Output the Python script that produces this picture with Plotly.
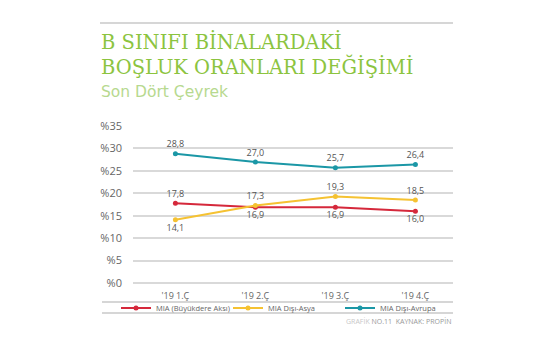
import plotly.graph_objects as go

categories = ["'19 1.Ç", "'19 2.Ç", "'19 3.Ç", "'19 4.Ç"]
mia_buyukdere = [17.8, 16.9, 16.9, 16.0]
mia_disi_asya = [14.1, 17.3, 19.3, 18.5]
mia_disi_avrupa = [28.8, 27.0, 25.7, 26.4]
series_names = ["MIA (Büyükdere Aksı)", "MIA Dışı-Asya", "MIA Dışı-Avrupa"]
y_ticks = [0, 5, 10, 15, 20, 25, 30, 35]
y_tick_labels = [f"%{v}" for v in y_ticks]

colors = ["#d5283b", "#f5c232", "#1b97a6"]

def fmt(vals):
    return [f"{v:.1f}".replace(".", ",") for v in vals]

fig = go.Figure()
series = [mia_buyukdere, mia_disi_asya, mia_disi_avrupa]
positions = [
    ["top center", "bottom center", "bottom center", "bottom center"],
    ["bottom center", "top center", "top center", "top center"],
    ["top center", "top center", "top center", "top center"],
]
for name, vals, col, pos in zip(series_names, series, colors, positions):
    fig.add_trace(go.Scatter(
        x=categories, y=vals, name=name, mode="lines+markers+text",
        line=dict(color=col, width=2), marker=dict(color=col, size=5),
        text=fmt(vals), textposition=pos,
        textfont=dict(family="Open Sans", size=9, color="#555555"),
        cliponaxis=False,
    ))

# page body has an 8px margin: plot area on screen spans x 133..453, y 126..283
PH = 157.0
def py(pix):
    return (283 - pix) / PH
def px(pix):
    return (pix - 133) / 320.0

fig.update_layout(
    width=555, height=355,
    margin=dict(l=125, r=110, t=118, b=80, autoexpand=False),
    paper_bgcolor="white", plot_bgcolor="white",
    showlegend=True,
    legend=dict(orientation="h", x=px(116), xanchor="left", y=py(308), yanchor="middle",
                font=dict(family="Open Sans", size=7.5, color="#666666"),
                itemwidth=30, entrywidth=67, entrywidthmode="pixels",
                bgcolor="rgba(0,0,0,0)"),
    xaxis=dict(type="category", range=[-0.53, 3.47], showgrid=False, zeroline=False,
               showline=False, ticks="", ticklabelstandoff=6,
               tickfont=dict(family="Open Sans", size=9, color="#666666")),
    yaxis=dict(range=[0, 35], tickvals=y_ticks, ticktext=y_tick_labels, showgrid=True,
               gridcolor="#d9d9d9", gridwidth=1.5, zeroline=True, zerolinecolor="#d9d9d9",
               zerolinewidth=1.5, showline=False,
               ticks="", ticklabelstandoff=10,
               tickfont=dict(family="Open Sans", size=11, color="#666666")),
)

# decorative lines
for y0, x0 in [(23, 100), (302, 102), (313, 102)]:
    fig.add_shape(type="line", xref="paper", yref="paper",
                  x0=px(x0), x1=1.0, y0=py(y0), y1=py(y0),
                  line=dict(color="#c8c8c8", width=1.5))

fig.add_annotation(text="B SINIFI BİNALARDAKİ<br>BOŞLUK ORANLARI DEĞİŞİMİ",
                   xref="paper", yref="paper",
                   x=px(99), y=py(54), xanchor="left", yanchor="middle", align="left",
                   showarrow=False,
                   font=dict(family="DejaVu Serif", size=19.5, color="#8cc43f"))
fig.add_annotation(text="Son Dört Çeyrek", xref="paper", yref="paper",
                   x=px(99), y=py(92), xanchor="left", yanchor="middle",
                   showarrow=False, font=dict(family="DejaVu Sans", size=15.5, color="#b7d98f"))
fig.add_annotation(text="<span style='color:#c8c8c8'>GRAFİK</span> NO.11  KAYNAK: PROPİN",
                   xref="paper", yref="paper", x=1.0, y=py(321),
                   xanchor="right", yanchor="middle", showarrow=False,
                   font=dict(family="Open Sans", size=7, color="#999999"))

fig.write_html("out.html")
